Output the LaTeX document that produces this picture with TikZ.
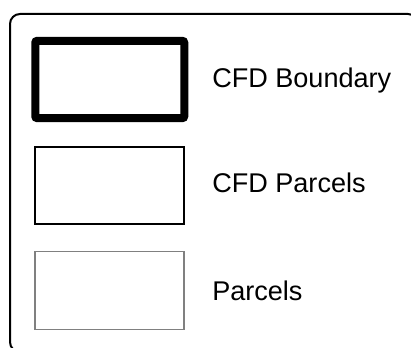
\documentclass[tikz,border=0pt]{standalone}
\usepackage{fontspec}
\setmainfont{Liberation Sans}
\tikzset{
  legbox/.style={draw, minimum width=111.75pt, minimum height=58pt, inner sep=0pt},
  legtext/.style={anchor=base west, inner sep=0pt, font=\fontsize{20.3pt}{24pt}\selectfont}
}
\begin{document}
\begin{tikzpicture}[x=0.75pt,y=-0.75pt]
\useasboundingbox (0,0) rectangle (411,348);
\draw[line width=1.5pt, rounded corners=7.5pt] (10,14) rectangle (418,352);
\node[legbox, line width=6pt, rounded corners=1.5pt] (bound) at (109.75,79.5) {};
\node[legbox, line width=1.4pt] (cfdpar) at (109.5,185.3) {};
\node[legbox, line width=0.8pt, draw=black!50] (par) at (109.5,290.4) {};
\node[legtext] (boundlab) at (212,88) {CFD Boundary};
\node[legtext] (cfdparlab) at (212,193) {CFD Parcels};
\node[legtext] (parlab) at (212,301) {Parcels};
\end{tikzpicture}
\end{document}
